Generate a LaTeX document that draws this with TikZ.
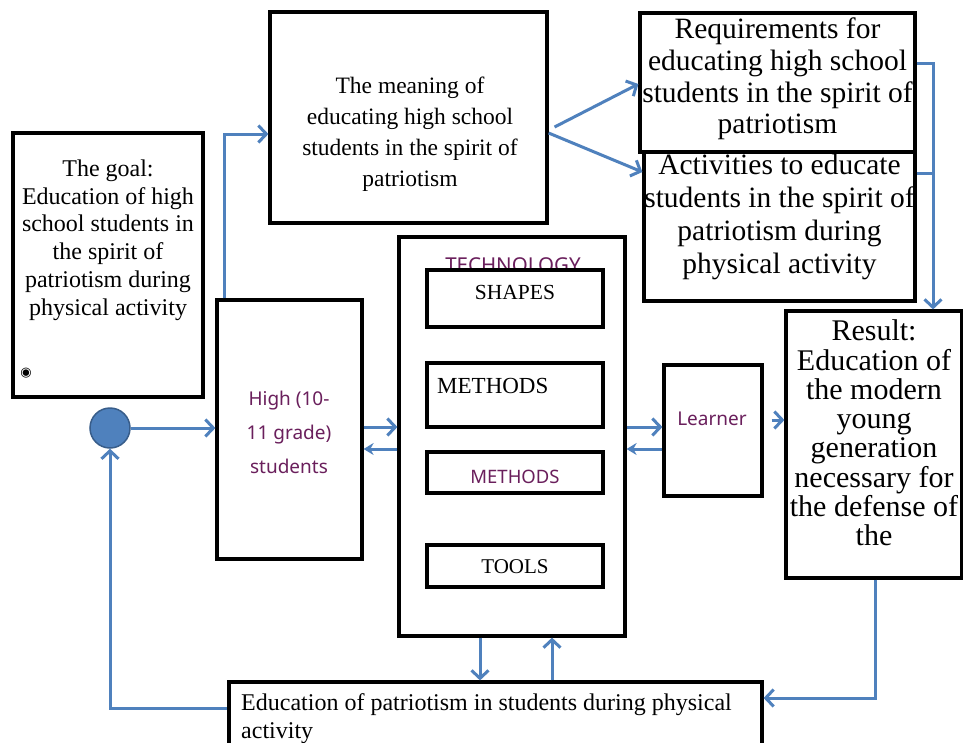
\documentclass[tikz,border=0pt]{standalone}
\usepackage{fontspec}
\setmainfont{Liberation Serif}
\newfontfamily\sansf{Noto Sans}
\newfontfamily\symf{DejaVu Sans}
\usetikzlibrary{arrows.meta,calc}
\definecolor{blueln}{HTML}{4F81BD}
\definecolor{bluedk}{HTML}{385D8A}
\definecolor{sanstxt}{HTML}{6A1F5C}
\begin{document}
\begin{tikzpicture}[x=1pt,y=-1pt,
  box/.style={draw=black, line width=3.2pt, fill=white, inner sep=0pt},
  txt/.style={inner sep=0pt, align=center, text=black},
  stxt/.style={inner sep=0pt, align=center, text=sanstxt, font=\sansf\fontsize{19}{34}\selectfont},
  conn/.style={draw=blueln, line width=3pt},
  arr/.style={conn, -{Straight Barb[length=8pt,width=17pt]}},
  arrs/.style={conn, -{Stealth[length=10pt,width=12pt]}}
]
\useasboundingbox (0,0) rectangle (963,742);
\clip (0,0) rectangle (963,742);
\fill[white] (0,0) rectangle (963,742);

% boxes
\node[box, minimum width=190pt, minimum height=264pt] (goal) at (108,265) {};
\node[txt, font=\fontsize{24}{27.8}\selectfont] (goaltxt) at (108,240) {The goal:\\Education of high\\school students in\\the spirit of\\patriotism during\\physical activity};
\node[inner sep=0pt] (goalmark) at (26,373) {\symf\fontsize{13}{13}\selectfont ◉};

\node[box, minimum width=277pt, minimum height=211pt] (meaning) at (408.5,117.5) {};
\node[txt, font=\fontsize{23.5}{31}\selectfont] (meaningtxt) at (410,134) {The meaning of\\educating high school\\students in the spirit of\\patriotism};

\node[box, minimum width=275pt, minimum height=139pt] (req) at (777.5,82.5) {};
\node[txt, font=\fontsize{29.5}{31.7}\selectfont] (reqtxt) at (777.5,79) {Requirements for\\educating high school\\students in the spirit of\\patriotism};

\node[box, minimum width=271pt, minimum height=149pt] (act) at (779.5,226.5) {};
\node[txt, font=\fontsize{29.5}{33}\selectfont] (acttxt) at (779.5,217) {Activities to educate\\students in the spirit of\\patriotism during\\physical activity};

\node[box, minimum width=226pt, minimum height=399pt] (tech) at (512,436.5) {};
\node[inner sep=0pt, text=sanstxt, font=\sansf\fontsize{20.5}{20.5}\selectfont] (techtxt) at (513,265) {TECHNOLOGY};

\node[box, minimum width=176pt, minimum height=57pt] (shapes) at (515,298.5) {};
\node[txt, font=\fontsize{21.5}{24}\selectfont] (shapestxt) at (515,292) {SHAPES};
\node[box, minimum width=176pt, minimum height=64pt] (meth1) at (515,395) {};
\node[txt, anchor=west, font=\fontsize{23}{26}\selectfont] (meth1txt) at (437,386) {METHODS};
\node[box, minimum width=176pt, minimum height=41pt] (meth2) at (515,472.5) {};
\node[stxt, font=\sansf\fontsize{18.5}{20}\selectfont] (meth2txt) at (515,477) {METHODS};
\node[box, minimum width=176pt, minimum height=42pt] (tools) at (515,566) {};
\node[txt, font=\fontsize{21}{24}\selectfont] (toolstxt) at (515,567) {TOOLS};

\node[box, minimum width=98pt, minimum height=131pt] (learner) at (713,430.5) {};
\node[stxt] (learnertxt) at (712,419) {Learner};

\node[box, minimum width=176pt, minimum height=267pt] (result) at (874,444.5) {};
\node[txt, font=\fontsize{30}{29.3}\selectfont] (resulttxt) at (874,433) {Result:\\Education of\\the modern\\young\\generation\\necessary for\\the defense of\\the};

\node[box, minimum width=145pt, minimum height=259pt] (students) at (289.5,429.5) {};
\node[stxt] (studentstxt) at (289,432) {High (10-\\11 grade)\\students};

\node[box, minimum width=533pt, minimum height=78pt] (edu) at (495.5,721) {};
\node[txt, anchor=north west, align=left, font=\fontsize{24}{28}\selectfont] (edutxt) at (241,693) {Education of patriotism in students during physical\\activity};

\node[circle, draw=bluedk, line width=1.5pt, fill=blueln, minimum size=40pt, inner sep=0pt] (circ) at (110,428) {};

% connectors
\draw[arr] ([xshift=9pt]students.north west) |- ([yshift=-16.5pt]meaning.west);
\draw[arr] ([xshift=6pt,yshift=-9.5pt]meaning.east) -- ([yshift=-1.5pt]req.west);
\draw[arr] ([yshift=-15.5pt]meaning.east) -- ([yshift=54.5pt]act.west);
\draw[arr] ([yshift=19.5pt]req.east) -| ([xshift=59pt]result.north);
\draw[conn] ([yshift=53.5pt]act.east) -- ++(18,0);

\draw[arr] (circ.east) -- (circ.east -| students.west);
\draw[arr] ([yshift=2.5pt]students.east) -- ([yshift=9.5pt]tech.west);
\draw[arrs] ([yshift=-12.5pt]tech.west) -- ([yshift=-19.5pt]students.east);
\draw[arr] ([yshift=9.5pt]tech.east) -- ([yshift=3.5pt]learner.west);
\draw[arrs] ([yshift=-18.5pt]learner.west) -- ([yshift=-12.5pt]tech.east);
\draw[arr] ([xshift=8pt,yshift=10.5pt]learner.east) -- ([yshift=24.5pt]result.west);

\draw[arr] ([xshift=1pt]result.south) |- ([yshift=23pt]edu.east);
\draw[arr] ([xshift=-32pt]tech.south) -- ([xshift=-15.5pt]edu.north);
\draw[arr] ([xshift=56.5pt]edu.north) -- ([xshift=40pt]tech.south);
\draw[arr] ([yshift=13pt]edu.west) -| (circ.south);
\end{tikzpicture}
\end{document}
